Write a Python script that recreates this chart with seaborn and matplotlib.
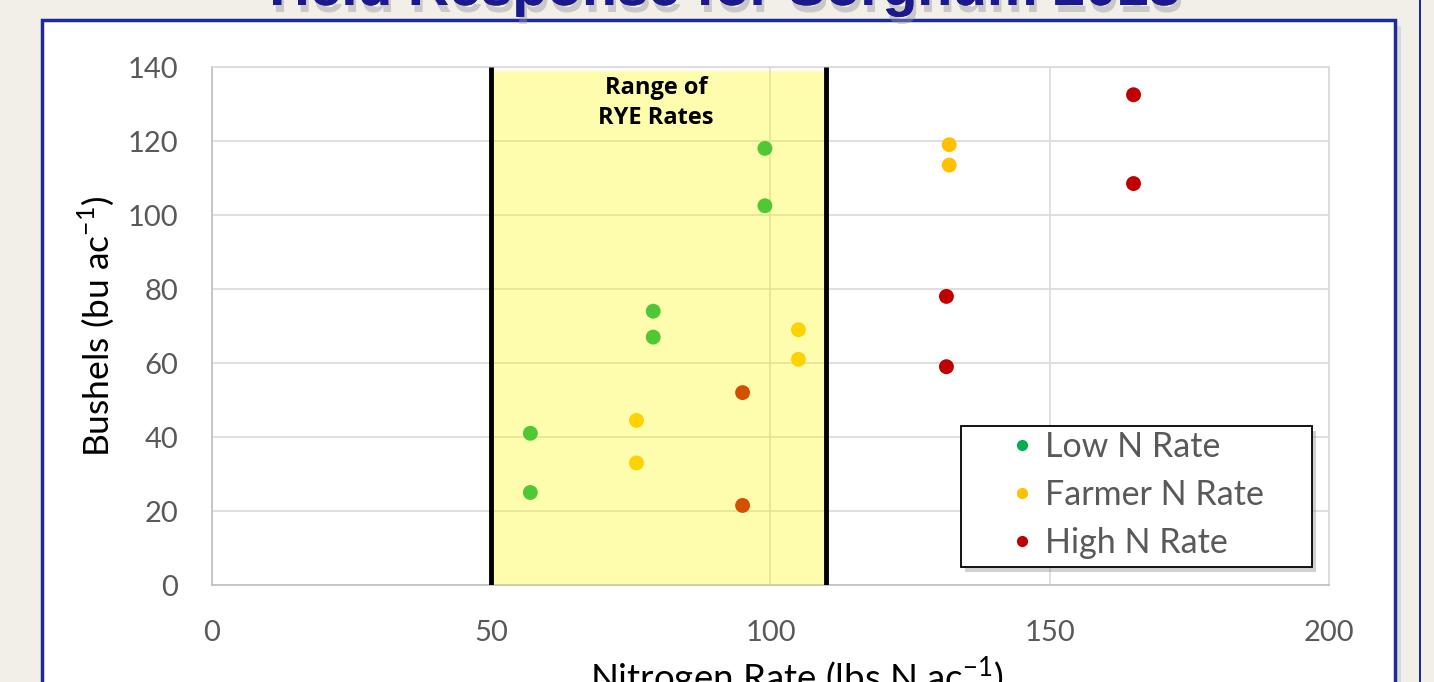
import matplotlib
matplotlib.use("Agg")
import matplotlib.pyplot as plt
import matplotlib.patheffects as pe
from matplotlib.patches import Rectangle
import seaborn as sb
import pandas as pd

# values
low_x = [57, 57, 79, 79, 99, 99]
low_y = [25, 41, 67, 74, 102.5, 118]
farmer_x = [76, 76, 105, 105, 132, 132]
farmer_y = [33, 44.5, 61, 69, 113.5, 119]
high_x = [95, 95, 131.5, 131.5, 165, 165]
high_y = [21.5, 52, 59, 78, 108.5, 132.5]
series = ["Low N Rate", "Farmer N Rate", "High N Rate"]
rye_range = [50, 110]

df = pd.DataFrame({
    "x": low_x + farmer_x + high_x,
    "y": low_y + farmer_y + high_y,
    "Treatment": [series[0]] * 6 + [series[1]] * 6 + [series[2]] * 6,
})
palette = {"Low N Rate": "#00b050", "Farmer N Rate": "#ffc000", "High N Rate": "#c00000"}

sb.set_style("white")
plt.rcParams["font.family"] = ["Lato", "DejaVu Sans"]

fig = plt.figure(figsize=(14.34, 6.82), dpi=100)
fig.patch.set_facecolor("#f2efe9")

# slide panel + right border line
W, H = 1434, 682
shadow = Rectangle((48 / W, -0.05), 1353 / W, 1.0 - 26 / H + 0.05, transform=fig.transFigure,
                   facecolor="#dcdad4", edgecolor="none", zorder=0)
panel = Rectangle((42 / W, -0.05), 1353 / W, 1.0 - 20 / H + 0.05, transform=fig.transFigure,
                  facecolor="white", edgecolor="#1c2a9c", lw=2.5, zorder=0.5)
rline = Rectangle((1419 / W, -0.05), 2 / W, 1.1, transform=fig.transFigure,
                  facecolor="#1c2a9c", edgecolor="none", zorder=0.5)
fig.patches.extend([shadow, panel, rline])

fig.text(720 / W, 1 - 5 / H, "Yield Response for Sorghum 2018", ha="center", va="baseline",
         fontsize=41, fontweight="bold", color="#1a1a8c", family="Liberation Sans",
         path_effects=[pe.withSimplePatchShadow(offset=(2, -5), shadow_rgbFace="#999999", alpha=0.45), pe.Normal()])

ax = fig.add_axes([212 / W, 1 - 585 / H, 1117 / W, 518 / H])
ax.set_zorder(2)
ax.set_facecolor("white")

sb.scatterplot(data=df, x="x", y="y", hue="Treatment", palette=palette, s=115,
               edgecolor="none", ax=ax, zorder=3)

# shaded RYE range drawn on top (tints the points like the original)
ax.axvspan(rye_range[0], rye_range[1], ymin=0, ymax=0.993, color="#fbfb00", alpha=0.32, lw=0, zorder=4)
ax.vlines(rye_range, 0, 140, color="black", lw=3.5, zorder=5)
ax.text(sum(rye_range) / 2 - 0.5, 130.3, "Range of\nRYE Rates", ha="center", va="center",
        fontsize=17, fontweight="bold", color="black", linespacing=1.36, zorder=6,
        family=["Open Sans", "DejaVu Sans"])

ax.set_xlim(0, 200)
ax.set_ylim(0, 140)
ax.set_xticks(range(0, 201, 50))
ax.set_yticks(range(0, 141, 20))
ax.grid(True, color="#d9d9d9", lw=1.2, zorder=0)
ax.set_axisbelow(True)
for s in ax.spines.values():
    s.set_color("#d9d9d9")
    s.set_linewidth(1.2)
ax.spines["left"].set_color("#bfbfbf")
ax.spines["bottom"].set_color("#bfbfbf")
ax.tick_params(axis="both", length=0, labelsize=21, labelcolor="#595959")
ax.tick_params(axis="y", pad=24.5)
ax.tick_params(axis="x", pad=25)
ax.set_xlabel("Nitrogen Rate (lbs N ac$^{\\mathregular{-1}}$)", fontsize=26.4, color="black")
ax.xaxis.set_label_coords(0.5237, -0.135)
ax.set_ylabel("Bushels (bu ac$^{\\mathregular{-1}}$)", fontsize=25.5, color="black", labelpad=8)

# legend frame drawn separately: it has extra room on the right
box = Rectangle((0.6705, 0.0347), 0.3143, 0.2723, transform=ax.transAxes, facecolor="white",
                edgecolor="black", lw=1.3, zorder=9, clip_on=False)
box_shadow = Rectangle((0.6705 + 0.004, 0.0347 - 0.009), 0.3143, 0.2723, transform=ax.transAxes,
                       facecolor="#8c8c8c", edgecolor="none", alpha=0.4, zorder=8.9, clip_on=False)
ax.add_patch(box_shadow)
ax.add_patch(box)

leg = ax.legend(loc="center left", bbox_to_anchor=(0.710, 0.1737), fontsize=24.5, frameon=False,
                labelspacing=0.48, handletextpad=0.18, borderpad=0, markerscale=0.75,
                borderaxespad=0, handlelength=1.0)
leg.set_zorder(10)
for t in leg.get_texts():
    t.set_color("#595959")

fig.savefig("out.png", dpi=100, facecolor=fig.get_facecolor())
